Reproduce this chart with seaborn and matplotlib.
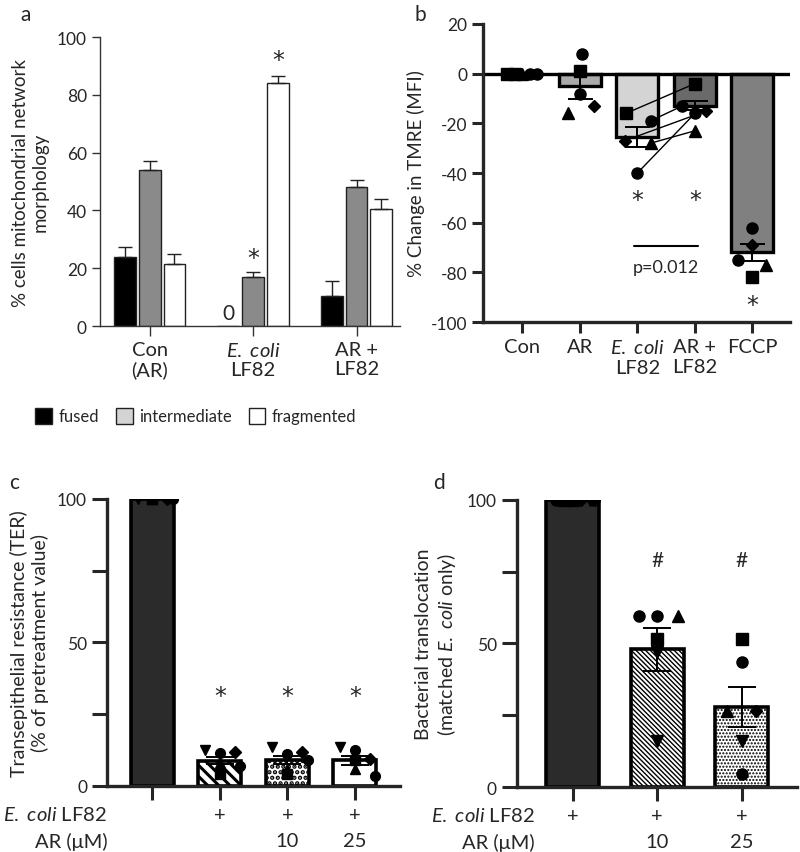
import numpy as np
import pandas as pd
import matplotlib
matplotlib.use('Agg')
import matplotlib.pyplot as plt
import matplotlib.transforms as mtransforms
import seaborn as sns
from matplotlib.patches import Patch

sns.set_style('ticks')
plt.rcParams['font.family'] = ['Lato', 'DejaVu Sans']
plt.rcParams.update({'mathtext.fontset': 'custom', 'mathtext.rm': 'Lato',
                     'mathtext.it': 'Lato:italic', 'mathtext.bf': 'Lato:bold',
                     'axes.unicode_minus': False})

ECOLI = r'$\mathit{E.}$ $\mathit{coli}$'
STAR = dict(ha='center', va='center', fontsize=17, family='DejaVu Sans')

# ---- panel a: mitochondrial morphology ----
morph_groups = ['Con\n(AR)', ECOLI + '\nLF82', 'AR +\nLF82']
morph_types = ['fused', 'intermediate', 'fragmented']
morph_mean = {'fused': [24, 0, 10.5], 'intermediate': [54, 17, 48], 'fragmented': [21.5, 84, 40.5]}
morph_sem = {'fused': [3.2, 0, 5], 'intermediate': [3.2, 1.8, 2.5], 'fragmented': [3.4, 2.5, 3.5]}

# ---- panel b: TMRE ----
tmre_groups = ['Con', 'AR', ECOLI + '\nLF82', 'AR +\nLF82', 'FCCP']
tmre_mean = [0, -5, -25.5, -13, -72]
tmre_sem = [0, 5, 4, 1.8, 3.5]
tmre_points = [[0, 0, 0, 0, 0],
               [8, 1, -8, -16, -13],
               [-16, -19, -27, -28, -40],
               [-4, -13, -15, -23, -16],
               [-62, -69, -75, -77, -82]]
tmre_markers = [['s', 's', '^', 'o', 'o'],
                ['o', 's', 'o', '^', 'D'],
                ['s', 'o', 'D', '^', 'o'],
                ['s', 'o', 'D', '^', 'o'],
                ['o', 'D', 'o', '^', 's']]
tmre_offsets = [[-0.26, -0.13, 0, 0.13, 0.26],
                [0.03, 0, 0, -0.2, 0.25],
                [-0.2, 0.23, -0.22, 0.23, 0],
                [0, -0.22, 0.2, 0, 0],
                [0, 0, -0.25, 0.23, 0]]

# ---- panel c: TER ----
ter_conds = ['Con', 'LF82', 'LF82 + AR10', 'LF82 + AR25']
ter_ecoli = ['', '+', '+', '+']
ter_ar = ['', '', '10', '25']
ter_mean = [100, 8.8, 9, 9]
ter_sem = [0.4, 1.3, 1.5, 1.6]
ter_points = [[100, 100, 100, 100, 100, 100],
              [12.5, 11.5, 12, 4, 8, 7],
              [13.5, 11, 12, 4, 6, 9],
              [13.5, 12.5, 9.5, 9, 6, 3.5]]
ter_markers = ['v', 'o', 'D', 's', '^', 'o']
ter_offsets = [-0.22, 0, 0.22, 0, 0, 0.3]

# ---- panel d: bacterial translocation ----
trans_conds = ['LF82', 'LF82 + AR10', 'LF82 + AR25']
trans_ecoli = ['+', '+', '+']
trans_ar = ['', '10', '25']
trans_mean = [100, 48, 28]
trans_sem = [0.4, 7.5, 7]
trans_points = [[100, 100, 100, 100, 100, 100],
                [59.5, 59.5, 59.5, 51.6, 47, 16],
                [51.6, 43.6, 26.5, 26.5, 16, 4.5]]
trans_markers = [['o', 's', '^', 'D', 'v', 'o'],
                 ['o', 'o', '^', 's', 'v', 'v'],
                 ['s', 'o', '^', 'D', 'v', 'o']]
trans_offsets = [[-0.2, -0.1, 0, 0.1, 0.2, 0.25],
                 [-0.22, 0, 0.25, 0, 0, 0],
                 [0, 0, -0.17, 0.17, 0, 0]]

fig = plt.figure(figsize=(8, 8.53), dpi=100)
ax_a = fig.add_axes([0.125, 0.6166, 0.375, 0.3388])
ax_b = fig.add_axes([0.604, 0.6213, 0.384, 0.3494])
ax_c = fig.add_axes([0.134, 0.0774, 0.366, 0.3365])
ax_d = fig.add_axes([0.646, 0.0762, 0.35, 0.3365])

# ================= panel a =================
df_a = pd.DataFrame([(g, t, morph_mean[t][i]) for t in morph_types
                     for i, g in enumerate(morph_groups)],
                    columns=['group', 'type', 'value'])
pal_a = {'fused': 'black', 'intermediate': '#8a8a8a', 'fragmented': 'white'}
sns.barplot(data=df_a, x='group', y='value', hue='type', order=morph_groups,
            hue_order=morph_types, palette=pal_a, width=0.72, gap=0.12,
            edgecolor='#222222', linewidth=1.0, errorbar=None, legend=False, ax=ax_a)
centers = {}
for t, cont in zip(morph_types, ax_a.containers):
    for i, bar in enumerate(cont):
        cx = bar.get_x() + bar.get_width() / 2
        centers[(t, i)] = cx
        if morph_sem[t][i] > 0:
            ax_a.errorbar(cx, morph_mean[t][i], yerr=[[0], [morph_sem[t][i]]], fmt='none',
                          ecolor='#222222', elinewidth=1.0, capsize=5, capthick=1.0)
ax_a.text(centers[('fused', 1)], 1.2, '0', ha='center', va='bottom', fontsize=15)
ax_a.text(centers[('intermediate', 1)], 23.5, '*', **STAR)
ax_a.text(centers[('fragmented', 1)], 92, '*', **STAR)
ax_a.set_ylim(0, 100)
ax_a.set_xlim(-0.48, 2.42)
ax_a.set_yticks([0, 20, 40, 60, 80, 100])
ax_a.set_xlabel('')
ax_a.set_ylabel('% cells mitochondrial network\nmorphology', fontsize=13.5, labelpad=6)
ax_a.tick_params(axis='y', labelsize=12.5, length=6, width=1, color='#333333')
ax_a.tick_params(axis='x', labelsize=14.5, length=7, width=1, color='#333333')
sns.despine(ax=ax_a)
for s in ['left', 'bottom']:
    ax_a.spines[s].set_linewidth(1.0)
    ax_a.spines[s].set_color('#333333')

leg_handles = [Patch(facecolor='black', edgecolor='#222222', label='fused'),
               Patch(facecolor='#d4d4d4', edgecolor='#222222', label='intermediate'),
               Patch(facecolor='white', edgecolor='#222222', label='fragmented')]
fig.legend(handles=leg_handles, loc='center', bbox_to_anchor=(0.245, 0.511), ncol=3,
           frameon=False, fontsize=12, handlelength=1.0, handleheight=1.1,
           handletextpad=0.4, columnspacing=1.0)

# ================= panel b =================
pal_b = ['white', '#aaaaaa', '#d4d4d4', '#6a6a6a', '#808080']
sns.barplot(x=tmre_groups, y=tmre_mean, hue=tmre_groups, palette=pal_b, legend=False,
            width=0.73, edgecolor='black', linewidth=2.4, errorbar=None, ax=ax_b)
for i in range(len(tmre_groups)):
    if tmre_sem[i] > 0:
        ax_b.errorbar(i, tmre_mean[i], yerr=tmre_sem[i], fmt='none', ecolor='black',
                      elinewidth=1.4, capsize=9, capthick=1.4, zorder=3)
# paired lines E. coli -> AR + LF82
for k in range(5):
    ax_b.plot([2 + tmre_offsets[2][k], 3 + tmre_offsets[3][k]],
              [tmre_points[2][k], tmre_points[3][k]], color='black', lw=1.0, zorder=4)
for i in range(len(tmre_groups)):
    for v, m, o in zip(tmre_points[i], tmre_markers[i], tmre_offsets[i]):
        ax_b.plot(i + o, v, marker=m, color='black', ms=8 if m != 'D' else 6.5,
                  ls='none', zorder=5)
ax_b.axhline(0, color='black', lw=2.4, zorder=2)
ax_b.text(2, -51, '*', **STAR)
ax_b.text(3, -51, '*', **STAR)
ax_b.text(4, -93, '*', **STAR)
ax_b.plot([1.95, 3.05], [-69.5, -69.5], color='black', lw=1.5)
ax_b.text(2.5, -78, 'p=0.012', ha='center', va='center', fontsize=13)
ax_b.set_ylim(-100, 20)
ax_b.set_xlim(-0.68, 4.66)
ax_b.set_yticks(range(-100, 21, 20))
ax_b.set_ylabel('% Change in TMRE (MFI)', fontsize=13.5, labelpad=4)
ax_b.tick_params(axis='y', labelsize=12.5, length=8, width=2.2)
ax_b.tick_params(axis='x', labelsize=14.5, length=8, width=2.2)
sns.despine(ax=ax_b)
for s in ['left', 'bottom']:
    ax_b.spines[s].set_linewidth(2.4)


def styled_bars(ax, conds, means, sems, fills, hatches, hatch_lw, width):
    sns.barplot(x=conds, y=means, hue=conds, palette=fills, legend=False, width=width,
                edgecolor='black', linewidth=2.6, errorbar=None, ax=ax)
    for bar, h in zip(ax.patches, hatches):
        if h:
            bar.set_hatch(h)
            try:
                bar.set_hatch_linewidth(hatch_lw)
            except AttributeError:
                pass
    for i in range(len(conds)):
        ax.errorbar(i, means[i], yerr=sems[i], fmt='none', ecolor='black',
                    elinewidth=1.4, capsize=10, capthick=1.4, zorder=3)


def two_row_labels(ax, ecoli_row, ar_row, label_x):
    trans = mtransforms.blended_transform_factory(ax.transData, ax.transAxes)
    for i, (e, a) in enumerate(zip(ecoli_row, ar_row)):
        ax.text(i, -0.098, e, transform=trans, ha='center', va='center', fontsize=14.5)
        ax.text(i, -0.19, a, transform=trans, ha='center', va='center', fontsize=14.5)
    ax.text(label_x, -0.098, ECOLI + ' LF82', transform=ax.transAxes, ha='right',
            va='center', fontsize=14.5)
    ax.text(label_x, -0.19, 'AR (\u03bcM)', transform=ax.transAxes, ha='right',
            va='center', fontsize=14.5)


# ================= panel c =================
styled_bars(ax_c, ter_conds, ter_mean, ter_sem, ['#2b2b2b', 'white', 'white', 'white'],
            [None, '\\\\\\', '...', None], 2.2, 0.64)
for i in range(len(ter_conds)):
    for v, m, o in zip(ter_points[i], ter_markers, ter_offsets):
        ax_c.plot(i + o, v, marker=m, color='black', ms=7 if m != 'D' else 6,
                  ls='none', zorder=5)
for i in range(1, 4):
    ax_c.text(i, 31.5, '*', **STAR)
ax_c.set_ylim(0, 100)
ax_c.set_xlim(-0.67, 3.67)
ax_c.set_yticks([0, 50, 100])
ax_c.set_yticks([25, 75], minor=True)
ax_c.set_xticks(range(4))
ax_c.set_xticklabels([''] * 4)
ax_c.set_ylabel('Transepithelial resistance (TER)\n(% of pretreatment value)',
                fontsize=14, labelpad=6)
ax_c.tick_params(axis='y', which='both', labelsize=12.5, length=11, width=2.2)
ax_c.tick_params(axis='x', length=10, width=2.2)
sns.despine(ax=ax_c)
for s in ['left', 'bottom']:
    ax_c.spines[s].set_linewidth(2.4)
two_row_labels(ax_c, ter_ecoli, ter_ar, 0.0)

# ================= panel d =================
styled_bars(ax_d, trans_conds, trans_mean, trans_sem, ['#2b2b2b', 'white', 'white'],
            [None, '\\' * 7, '.....'], 1.0, 0.63)
for i in range(len(trans_conds)):
    for v, m, o in zip(trans_points[i], trans_markers[i], trans_offsets[i]):
        ax_d.plot(i + o, v, marker=m, color='black', ms=8 if m != 'D' else 6.5,
                  ls='none', zorder=5)
ax_d.text(1, 79, '#', ha='center', va='center', fontsize=15)
ax_d.text(2, 79, '#', ha='center', va='center', fontsize=15)
ax_d.set_ylim(0, 100)
ax_d.set_xlim(-0.66, 2.65)
ax_d.set_yticks([0, 50, 100])
ax_d.set_yticks([25, 75], minor=True)
ax_d.set_xticks(range(3))
ax_d.set_xticklabels([''] * 3)
ax_d.set_ylabel('Bacterial translocation\n(matched ' + ECOLI + ' only)',
                fontsize=14, labelpad=6)
ax_d.tick_params(axis='y', which='both', labelsize=12.5, length=11, width=2.2)
ax_d.tick_params(axis='x', length=10, width=2.2)
sns.despine(ax=ax_d)
for s in ['left', 'bottom']:
    ax_d.spines[s].set_linewidth(2.4)
two_row_labels(ax_d, trans_ecoli, trans_ar, 0.064)

# panel letters
fig.text(0.025, 0.982, 'a', fontsize=15, va='center')
fig.text(0.518, 0.982, 'b', fontsize=15, va='center')
fig.text(0.012, 0.434, 'c', fontsize=15, va='center')
fig.text(0.541, 0.434, 'd', fontsize=15, va='center')

fig.savefig('out.png', dpi=100, facecolor='white')
